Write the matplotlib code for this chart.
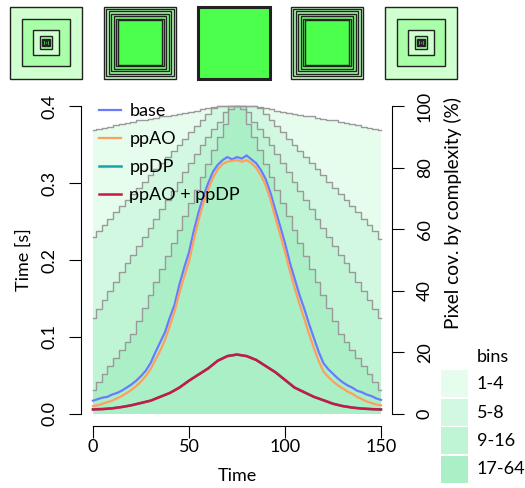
import numpy as np
import matplotlib
matplotlib.use("Agg")
import matplotlib.pyplot as plt
from matplotlib.patches import Rectangle

plt.rcParams['font.family'] = ['Lato', 'DejaVu Sans']
plt.rcParams['font.size'] = 13

# time samples for the coverage steps (every 3 frames)
t_bins = np.arange(0, 151, 3)

# cumulative pixel coverage (%) - top of each band
cov_1_4 = [92.2, 92.6, 93.0, 93.4, 93.8, 94.2, 94.6, 95.0, 95.4, 95.7, 96.0, 96.3, 96.7,
           97.0, 97.3, 97.6, 97.9, 98.2, 98.6, 99.0, 99.4, 99.8, 100, 100, 100, 100,
           100, 100, 100, 99.8, 99.4, 99.0, 98.6, 98.2, 97.9, 97.6, 97.3, 97.0, 96.7,
           96.3, 96.0, 95.7, 95.4, 95.0, 94.6, 94.2, 93.8, 93.4, 93.0, 92.6, 92.2]
cov_5_8 = [57.5, 59.5, 61.5, 63.5, 65.5, 67.5, 69.5, 71.5, 73.5, 75.5, 77.5, 79.5, 81.5,
           83.5, 85.5, 87.5, 89.5, 91.5, 93.5, 95.5, 97.5, 99.5, 100, 100, 100, 100,
           100, 100, 100, 99.5, 97.5, 95.5, 93.5, 91.5, 89.5, 87.5, 85.5, 83.5, 81.5,
           79.5, 77.5, 75.5, 73.5, 71.5, 69.5, 67.5, 65.5, 63.5, 61.5, 59.5, 57.0]
cov_9_16 = [31, 34, 37, 40, 43, 46, 49, 51.5, 54.5, 57.5, 60.5, 63.5, 66.5,
            69.5, 72.5, 75.5, 78.5, 81.5, 84.5, 87.5, 90, 92.5, 95, 98, 100, 100,
            100, 98, 95, 92.5, 90, 87.5, 84.5, 81.5, 78.5, 75.5, 72.5, 69.5, 66.5,
            63.5, 60.5, 57.5, 54.5, 51.5, 49, 46, 43, 40, 37, 34, 31]
cov_17_64 = [7.6, 10.2, 12.9, 15.5, 18.2, 20.8, 23.4, 26.0, 30.2, 34.4, 38.6, 42.9, 47.1,
             51.3, 55.6, 59.9, 64.2, 68.5, 72.8, 77.1, 81.4, 85.7, 90.0, 94.3, 99.2, 100,
             99.2, 94.3, 90.0, 85.7, 81.4, 77.1, 72.8, 68.5, 64.2, 59.9, 55.6, 51.3, 47.1,
             42.9, 38.6, 34.4, 30.2, 26.0, 23.4, 20.8, 18.2, 15.5, 12.9, 10.2, 7.6]
bin_labels = ['1-4', '5-8', '9-16', '17-64']
bin_colors = ['#e6fcec', '#d2f8e1', '#bff4d5', '#abefc7']

# frame times (s)
t_fine = np.arange(0, 150.1, 2.5)
base = [0.017, 0.019, 0.021, 0.022, 0.025, 0.027, 0.030, 0.034, 0.038, 0.043,
        0.049, 0.056, 0.066, 0.080, 0.093, 0.106, 0.125, 0.142, 0.168, 0.190,
        0.210, 0.238, 0.262, 0.283, 0.300, 0.315, 0.324, 0.330, 0.334, 0.331,
        0.334, 0.332, 0.336, 0.331, 0.326, 0.317, 0.305, 0.287, 0.265, 0.244,
        0.222, 0.197, 0.176, 0.155, 0.137, 0.117, 0.099, 0.081, 0.066, 0.058,
        0.052, 0.046, 0.041, 0.037, 0.034, 0.030, 0.028, 0.025, 0.023, 0.020,
        0.018]
ppAO = [0.010, 0.011, 0.013, 0.015, 0.017, 0.020, 0.023, 0.027, 0.031, 0.036,
        0.042, 0.049, 0.058, 0.070, 0.082, 0.096, 0.114, 0.133, 0.157, 0.178,
        0.198, 0.226, 0.252, 0.274, 0.292, 0.307, 0.318, 0.325, 0.328, 0.329,
        0.330, 0.328, 0.330, 0.326, 0.320, 0.310, 0.297, 0.278, 0.255, 0.233,
        0.211, 0.186, 0.164, 0.143, 0.124, 0.104, 0.086, 0.069, 0.055, 0.048,
        0.042, 0.037, 0.033, 0.029, 0.026, 0.022, 0.019, 0.016, 0.014, 0.012,
        0.011]
t_lines = np.arange(0, 151, 5)
ppDP = [0.0058, 0.0062, 0.0071, 0.0088, 0.011, 0.014, 0.017, 0.022, 0.027, 0.034, 0.043,
        0.051, 0.059, 0.069, 0.075, 0.077, 0.075, 0.070, 0.062, 0.054, 0.044, 0.034,
        0.028, 0.022, 0.0176, 0.013, 0.010, 0.008, 0.0068, 0.006, 0.0056]
ppAO_ppDP = [0.0055, 0.006, 0.007, 0.0087, 0.011, 0.014, 0.017, 0.022, 0.027, 0.034, 0.043,
             0.051, 0.059, 0.069, 0.075, 0.077, 0.075, 0.070, 0.062, 0.054, 0.044, 0.034,
             0.028, 0.022, 0.0176, 0.013, 0.010, 0.008, 0.0067, 0.006, 0.0055]

# thumbnails: nested square sizes (fraction of outer) and fills
thumb_sizes = [[1, 0.66, 0.35, 0.17, 0.11, 0.07, 0.04],
               [1, 0.935, 0.87, 0.80, 0.73, 0.665, 0.62],
               [1],
               [1, 0.935, 0.87, 0.80, 0.73, 0.665, 0.62],
               [1, 0.66, 0.35, 0.17, 0.11, 0.07, 0.04]]
thumb_fills = [['#d0ffd0', '#a8ffa8', '#d0ffd0', '#a8ffa8', '#66ff66', '#4cff4c', '#4cff4c'],
               ['#d0ffd0', '#b8ffb8', '#a0ffa0', '#88ff88', '#70ff70', '#5cff5c', '#4cff4c'],
               ['#4cff4c'],
               ['#d0ffd0', '#b8ffb8', '#a0ffa0', '#88ff88', '#70ff70', '#5cff5c', '#4cff4c'],
               ['#d0ffd0', '#a8ffa8', '#d0ffd0', '#a8ffa8', '#66ff66', '#4cff4c', '#4cff4c']]

fig = plt.figure(figsize=(5.25, 4.88), dpi=100)
ax = fig.add_axes([0.1552, 0.127, 0.5924, 0.6803])
ax2 = ax.twinx()
ax.set_zorder(ax2.get_zorder() + 1)
ax.patch.set_visible(False)

# stacked coverage bands (right axis)
for cov, col in zip([cov_1_4, cov_5_8, cov_9_16, cov_17_64], bin_colors):
    ax2.fill_between(t_bins, 0, cov, step='mid', color=col, lw=0)
    ax2.step(t_bins, cov, where='mid', color='#9a9a9a', lw=1)
ax2.set_ylim(-4, 104)
ax2.set_yticks([0, 20, 40, 60, 80, 100])
for s in ['left', 'top', 'bottom']:
    ax2.spines[s].set_visible(False)
ax2.spines['right'].set_bounds(0, 100)
ax2.tick_params(axis='y', direction='out', length=8.5, pad=9, labelrotation=90)
for lab in ax2.get_yticklabels():
    lab.set_va('center')

ax.plot(t_fine, base, color='#6b7bff', lw=1.6, label='base')
ax.plot(t_fine, ppAO, color='#ff9f5f', lw=1.6, label='ppAO')
ax.plot(t_lines, ppDP, color='#12a6a6', lw=1.8, label='ppDP')
ax.plot(t_lines, ppAO_ppDP, color='#cc1744', lw=1.8, label='ppAO + ppDP')

ax.set_xlim(-6, 156)
ax.set_ylim(-0.016, 0.416)
ax.set_xticks([0, 50, 100, 150])
ax.set_yticks([0, 0.1, 0.2, 0.3, 0.4])
ax.set_yticklabels(['0.0', '0.1', '0.2', '0.3', '0.4'])
for s in ['top', 'right']:
    ax.spines[s].set_visible(False)
ax.spines['left'].set_bounds(0, 0.4)
ax.spines['bottom'].set_bounds(0, 150)
ax.tick_params(axis='y', direction='out', length=8.5, pad=9, labelrotation=90)
ax.tick_params(axis='x', direction='out', length=8.5, pad=1)
for lab in ax.get_yticklabels():
    lab.set_va('center')

ax.legend(loc='upper left', bbox_to_anchor=(0.055, 0.973), frameon=False,
          borderpad=0, borderaxespad=0, handlelength=1.25, handletextpad=0.45,
          labelspacing=0.67)

fig.text(237 / 525, 1 - 476 / 488, 'Time', ha='center', va='center')
fig.text(24 / 525, 1 - 260 / 488, 'Time [s]', ha='center', va='center', rotation=90)
fig.text(453 / 525, 1 - 213 / 488, 'Pixel cov. by complexity (%)', ha='center',
         va='center', rotation=90, fontsize=13.8)

# overlay in pixel coordinates for thumbnails and bins legend
ov = fig.add_axes([0, 0, 1, 1])
ov.set_xlim(0, 525)
ov.set_ylim(488, 0)
ov.axis('off')

thumb_x = [10, 104, 197.5, 291, 385]
for x0, sizes, fills in zip(thumb_x, thumb_sizes, thumb_fills):
    cx, cy, full = x0 + 36, 42.5, 72
    for k, (f, c) in enumerate(zip(sizes, fills)):
        s = full * f
        ov.add_patch(Rectangle((cx - s / 2, cy - s / 2), s, s, facecolor=c,
                               edgecolor='#222222', lw=2.2 if len(sizes) == 1 else 1))

ov.text(477, 357, 'bins', ha='left', va='center')
for i, (lab, col) in enumerate(zip(bin_labels, bin_colors)):
    y0 = 370 + i * 28.5
    ov.add_patch(Rectangle((441, y0), 27, 27, facecolor=col, lw=0))
    ov.text(477, y0 + 14, lab, ha='left', va='center')

fig.savefig('out.png', dpi=100)
